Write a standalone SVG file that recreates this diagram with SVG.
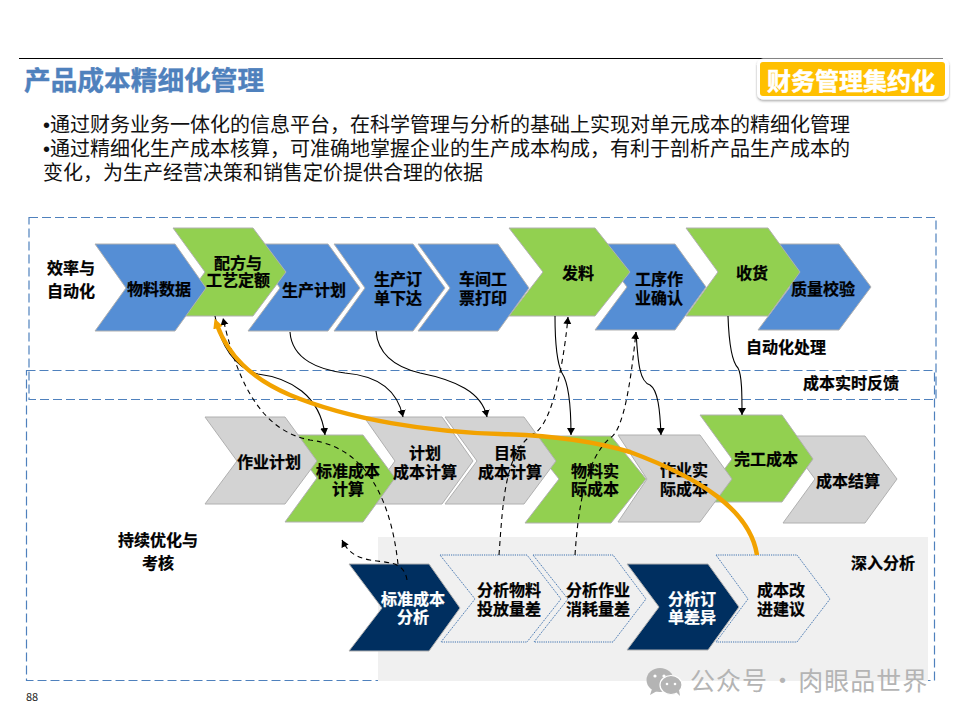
<svg xmlns="http://www.w3.org/2000/svg" width="960" height="720" viewBox="0 0 960 720">
<style>
text{font-family:"Noto Sans CJK SC","Liberation Sans",sans-serif}
.lb{font-size:16px;font-weight:700;fill:#000;stroke:#000;stroke-width:.25;text-anchor:middle;dominant-baseline:central}
.wt{fill:#fff;stroke:#fff}
.body{font-family:"Liberation Sans","Noto Sans CJK SC",sans-serif;font-size:20px;fill:#111}
.blue{fill:#558ED5;stroke:#b0b0b0;stroke-width:1}
.green{fill:#92D050;stroke:#b0b0b0;stroke-width:1}
.gray{fill:#D3D3D3;stroke:#b0b0b0;stroke-width:1}
.navy{fill:#002F60;stroke:#b0b0b0;stroke-width:1}
.dot{fill:none;stroke:#3F72AF;stroke-width:1;stroke-dasharray:1.2 1}
.band{fill:none;stroke:#4F81BD;stroke-width:1.2;stroke-dasharray:9 4}
.sol{fill:none;stroke:#000;stroke-width:1.1;marker-end:url(#ah)}
.das{fill:none;stroke:#000;stroke-width:1.1;stroke-dasharray:5 4;marker-end:url(#ah)}
</style>
<defs>
<marker id="ah" markerUnits="userSpaceOnUse" markerWidth="10" markerHeight="10" refX="7" refY="4" orient="auto"><path d="M0,0L7,4L0,8z" fill="#000"/></marker>
<marker id="oh" markerUnits="userSpaceOnUse" markerWidth="14" markerHeight="12" refX="3" refY="5" orient="auto"><path d="M0,0L10,5L0,10z" fill="#F2A200"/></marker>
<filter id="sh" x="-5%" y="-15%" width="110%" height="135%"><feDropShadow dx="0" dy="1.5" stdDeviation="1.2" flood-color="#000" flood-opacity=".35"/></filter>
</defs>

<rect width="960" height="720" fill="#fff"/>
<line x1="19" y1="58.500" x2="943" y2="58.500" stroke="#000" stroke-width="1"/>
<text x="24" y="90" font-size="26.7" font-weight="700" fill="#4F81BD" stroke="#4F81BD" stroke-width=".4">产品成本精细化管理</text>

<g id="badge">
<rect x="757" y="58.500" width="192" height="41" rx="6" fill="#fff" filter="url(#sh)"/>
<rect x="760" y="62" width="185" height="34" rx="3" fill="#FFC000"/>
<text x="851" y="79" font-size="24" font-weight="700" fill="#fff" stroke="#fff" stroke-width=".5" text-anchor="middle" dominant-baseline="central">财务管理集约化</text>
</g>

<g id="intro">
<text class="body" x="43" y="132">•通过财务业务一体化的信息平台，在科学管理与分析的基础上实现对单元成本的精细化管理</text>
<text class="body" x="43" y="156">•通过精细化生产成本核算，可准确地掌握企业的生产成本构成，有利于剖析产品生产成本的</text>
<text class="body" x="43" y="180">变化，为生产经营决策和销售定价提供合理的依据</text>
</g>

<g id="bands">
<rect class="band" x="29" y="217.500" width="907" height="182"/>
<rect class="band" x="26.500" y="370.500" width="908" height="310"/>
<rect x="378" y="537" width="550" height="144" fill="#F0F0F0"/>
</g>

<g id="n-plan"><polygon class="blue" points="248,244 328,244 360,288 328,331 248,331 280,288"/></g>
<g id="n-config"><polygon class="green" points="173,228 253,228 286,272 253,316 173,316 205,272"/></g>
<g id="n-material"><polygon class="blue" points="95,244 175,244 206,288 175,331 95,331 126,288"/></g>
<g id="n-order"><polygon class="blue" points="334,244 413,244 445,288 413,331 334,331 365,288"/></g>
<g id="n-qc"><polygon class="blue" points="758,244 839,244 871,287 839,330 758,330 790,287"/></g>
<g id="n-receive"><polygon class="green" points="686,228 768,228 800,272 768,316 686,316 718,272"/></g>
<g id="n-work"><polygon class="blue" points="595,244 675,244 706,287 675,330 595,330 627,287"/></g>
<g id="n-issue"><polygon class="green" points="509,228 595,228 630,272 595,316 509,316 543,272"/></g>
<g id="n-ticket"><polygon class="blue" points="418,244 498,244 529,288 498,331 418,331 450,288"/></g>

<g id="n-plancost"><polygon class="gray" points="364,417 442,417 473,461 442,504 364,504 395,461"/></g>
<g id="n-std"><polygon class="green" points="285,435 363,435 395,478 363,522 285,522 317,478"/></g>
<g id="n-jobplan"><polygon class="gray" points="205,417 285,417 317,461 285,504 205,504 237,461"/></g>
<g id="n-settle"><polygon class="gray" points="783,436 865,436 897,479 865,523 783,523 815,479"/></g>
<g id="n-done"><polygon class="green" points="700,415 782,415 813,459 782,502 700,502 732,459"/></g>
<g id="n-jobact"><polygon class="gray" points="618,435 700,435 732,479 700,522 618,522 647,479"/></g>
<g id="n-matact"><polygon class="green" points="525,436 611,436 646,479 611,523 525,523 559,479"/></g>
<g id="n-target"><polygon class="gray" points="445,417 524,417 556,461 524,504 445,504 477,461"/></g>

<g id="n-a1"><polygon class="navy" points="349,564 429,564 460,608 429,651 349,651 382,608"/></g>
<g id="n-a2"><polygon class="dot" points="440,555 527,555 561,599 527,642 441,642 475,599"/></g>
<g id="n-a3"><polygon class="dot" points="533,555 613,555 646,599 613,642 534,642 568,599"/></g>
<g id="n-a5"><polygon class="dot" points="716,555 797,555 830,599 797,642 716,642 748,599"/></g>
<g id="n-a4"><polygon class="navy" points="627,564 708,564 739,607 708,650 627,650 659,607"/></g>

<g id="labels">
<text class="lb"><tspan x="71" y="267">效率与</tspan><tspan x="71" y="290">自动化</tspan></text>
<text class="lb" x="159" y="288">物料数据</text>
<text class="lb"><tspan x="238" y="262">配方与</tspan><tspan x="238" y="279">工艺定额</tspan></text>
<text class="lb" x="314" y="289">生产计划</text>
<text class="lb"><tspan x="398" y="278">生产订</tspan><tspan x="398" y="297">单下达</tspan></text>
<text class="lb"><tspan x="483" y="278">车间工</tspan><tspan x="483" y="297">票打印</tspan></text>
<text class="lb" x="578" y="272">发料</text>
<text class="lb"><tspan x="659" y="278">工序作</tspan><tspan x="659" y="297">业确认</tspan></text>
<text class="lb" x="752" y="272">收货</text>
<text class="lb" x="823" y="288">质量校验</text>
<text class="lb" x="786" y="346">自动化处理</text>
<text class="lb" x="851" y="382">成本实时反馈</text>
<text class="lb" x="269" y="461">作业计划</text>
<text class="lb"><tspan x="348" y="470">标准成本</tspan><tspan x="348" y="488">计算</tspan></text>
<text class="lb"><tspan x="425" y="452">计划</tspan><tspan x="425" y="471">成本计算</tspan></text>
<text class="lb"><tspan x="510" y="452">目标</tspan><tspan x="510" y="471">成本计算</tspan></text>
<text class="lb"><tspan x="595" y="470">物料实</tspan><tspan x="595" y="488">际成本</tspan></text>
<text class="lb"><tspan x="684" y="469">作业实</tspan><tspan x="684" y="488">际成本</tspan></text>
<text class="lb" x="766" y="458">完工成本</text>
<text class="lb" x="848" y="480">成本结算</text>
<text class="lb"><tspan x="158" y="539">持续优化与</tspan><tspan x="158" y="562">考核</tspan></text>
<text class="lb wt"><tspan x="413" y="598">标准成本</tspan><tspan x="413" y="616">分析</tspan></text>
<text class="lb"><tspan x="509" y="589">分析物料</tspan><tspan x="509" y="608">投放量差</tspan></text>
<text class="lb"><tspan x="598" y="589">分析作业</tspan><tspan x="598" y="608">消耗量差</tspan></text>
<text class="lb wt"><tspan x="692" y="598">分析订</tspan><tspan x="692" y="616">单差异</tspan></text>
<text class="lb"><tspan x="781" y="589">成本改</tspan><tspan x="781" y="608">进建议</tspan></text>
<text class="lb" x="883" y="562">深入分析</text>
</g>

<g id="connectors">
<path class="sol" d="M290,332C292,360 320,370 345,373C380,376 398,392 403,417"/>
<path class="sol" d="M376,331C378,355 395,367 420,373C455,380 482,392 487,417"/>
<path class="sol" d="M215,316C220,345 235,368 258,374C290,378 320,395 325,435"/>
<path class="sol" d="M555,316C555,345 558,365 562,373C568,382 571,400 571,435"/>
<path class="sol" d="M636,332C638,365 640,382 650,385C658,390 660,410 661,435"/>
<path class="sol" d="M728,316C729,345 732,362 738,368C742,375 742,395 742,415"/>
<path class="das" d="M398,564C392,510 372,448 310,440C268,432 240,395 223,318"/>
<path class="das" d="M407,580C404,560 385,563 370,560C355,557 348,552 342,540"/>
<path class="das" d="M499,555C503,500 505,450 535,433C555,420 565,350 568,317"/>
<path class="das" d="M575,555C578,510 585,460 610,438C625,430 632,370 636,332"/>
<path d="M757,555C750,510 700,478 630,452C590,440 540,435 500,434C430,432 350,420 290,395C250,378 228,355 217,325" fill="none" stroke="#F2A200" stroke-width="4.500" marker-end="url(#oh)"/>
</g>

<g id="watermark">
<ellipse cx="660" cy="680" rx="13.500" ry="12" fill="#b4b4b4"/>
<path d="M652,689l-2,6 7,-4z" fill="#b4b4b4"/>
<ellipse cx="671" cy="685" rx="11" ry="9.500" fill="#b4b4b4" stroke="#fff" stroke-width="1.200"/>
<path d="M676,692l4,4 -1,-6z" fill="#b4b4b4"/>
<circle cx="655" cy="676" r="1.600" fill="#fff"/><circle cx="664" cy="676" r="1.600" fill="#fff"/>
<circle cx="667" cy="684" r="1.300" fill="#fff"/><circle cx="675" cy="684" r="1.300" fill="#fff"/>
<text x="690" y="690" font-size="25" fill="#b4b4b4" letter-spacing="1" word-spacing="-4.500">公众号 · 肉眼品世界</text>
</g>
<text x="26" y="701" font-size="11" fill="#222" font-family="Liberation Sans, sans-serif">88</text>
</svg>
